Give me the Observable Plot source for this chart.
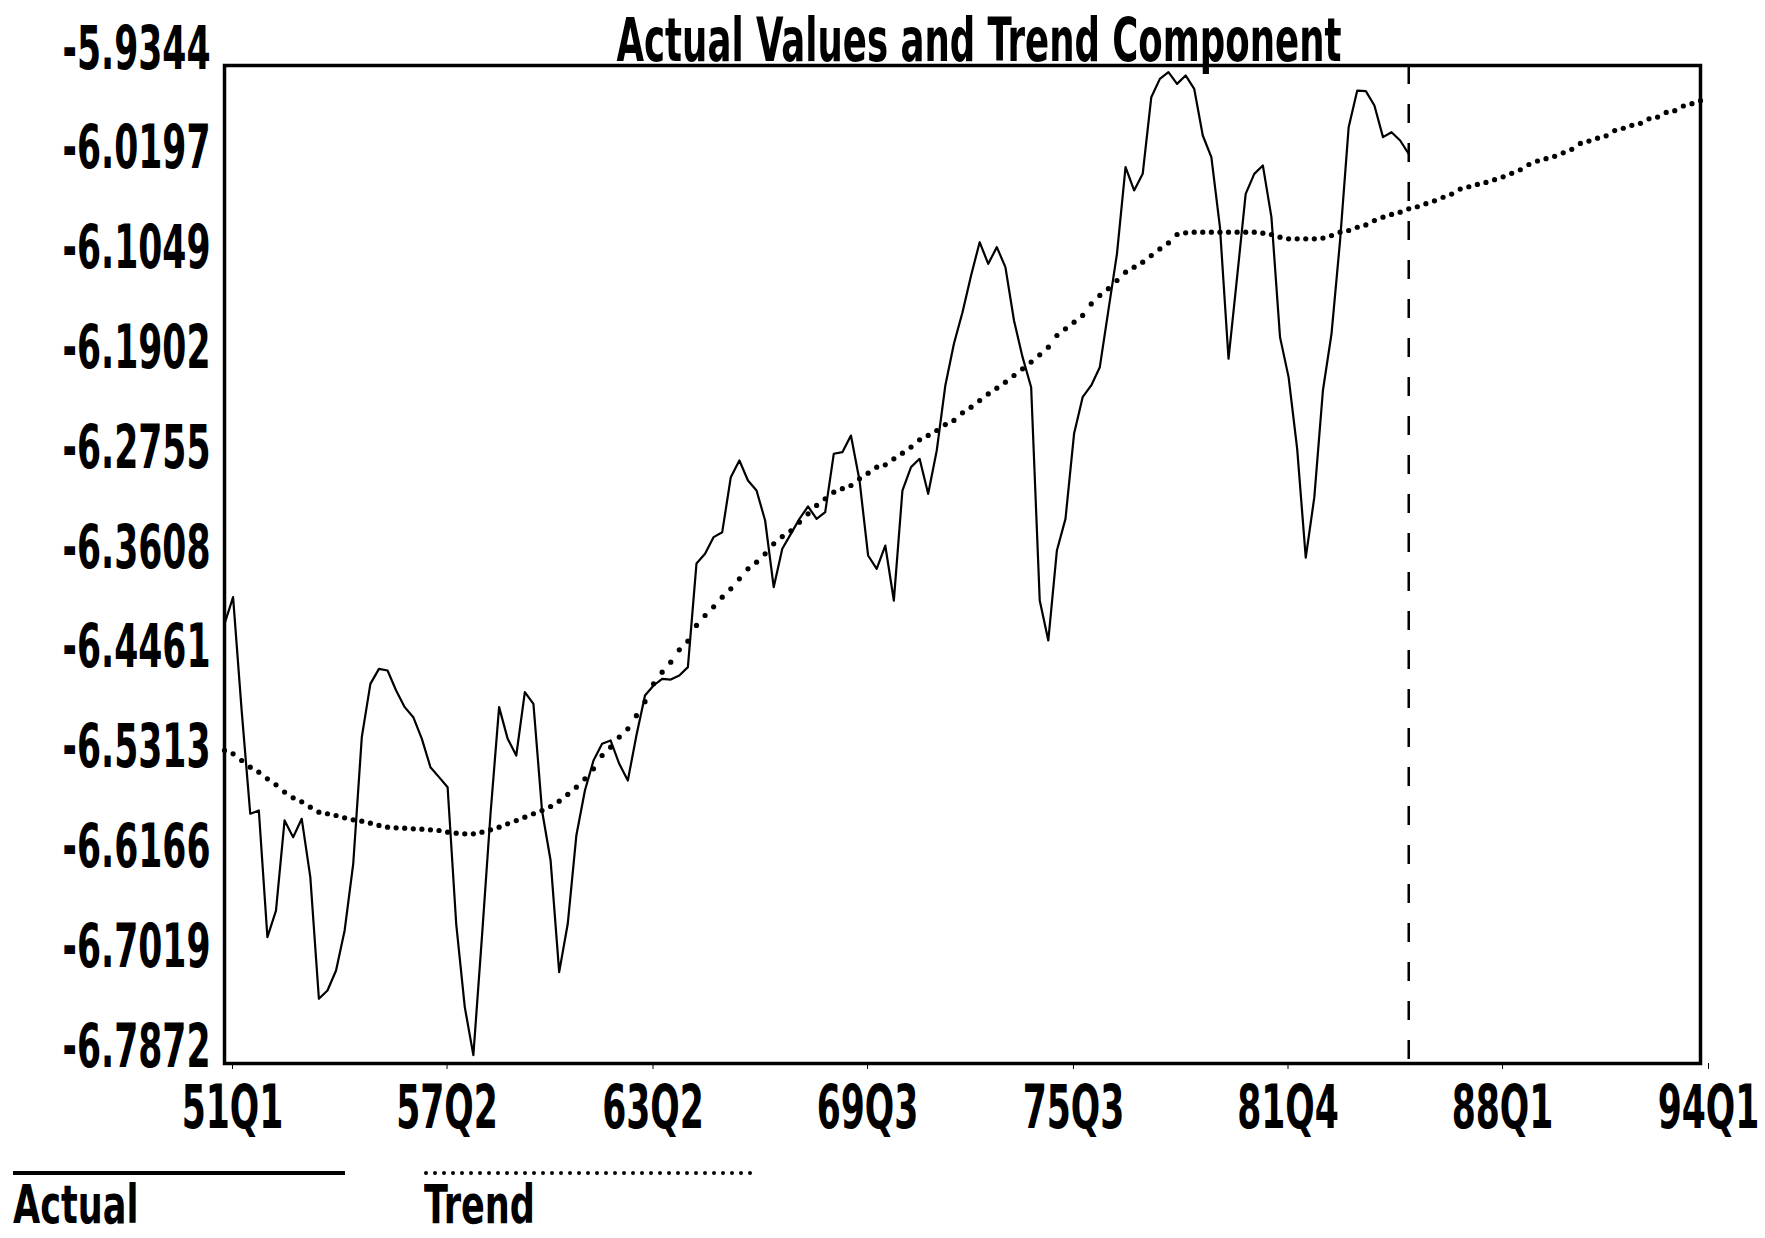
<!DOCTYPE html>
<html>
<head>
<meta charset="utf-8">
<script src="https://cdn.jsdelivr.net/npm/d3@7"></script>
<script src="https://cdn.jsdelivr.net/npm/@observablehq/plot@0.6"></script>
<style>
  html, body { margin: 0; padding: 0; background: #fff; }
  #wrap { position: relative; width: 1765px; height: 1238px; overflow: hidden; background: #fff; color: #000;
          font-family: "Liberation Sans Narrow", "DejaVu Sans Condensed", "DejaVu Sans", sans-serif; font-weight: bold; }
  #chart { position: absolute; left: 0; top: 0; }
  .title { position: absolute; left: 379px; width: 1200px; top: 17px; text-align: center; font-size: 52px; line-height: 40px;
           white-space: nowrap; transform: scale(0.76, 1.15); transform-origin: center top; }
  .legtxt { position: absolute; font-size: 52px; line-height: 36px; white-space: nowrap;
            transform: scale(0.75, 1.04); transform-origin: left top; }
  .legline { position: absolute; }
</style>
</head>
<body>
<div id="wrap">
  <div id="chart"></div>
  <div class="title">Actual Values and Trend Component</div>
  <svg class="legline" style="left:13px;top:1165px" width="340" height="16"><line x1="0" y1="8" x2="332" y2="8" stroke="#000" stroke-width="4"/></svg>
  <div class="legtxt" style="left:13px;top:1186px">Actual</div>
  <svg class="legline" style="left:424px;top:1165px" width="340" height="16"><line x1="2" y1="8" x2="332" y2="8" stroke="#000" stroke-width="4" stroke-linecap="round" stroke-dasharray="0,9"/></svg>
  <div class="legtxt" style="left:424px;top:1186px">Trend</div>
</div>
<script>
// Quarter index 0 = 51Q1
const quarterLabels = ["51Q1", "57Q2", "63Q2", "69Q3", "75Q3", "81Q4", "88Q1", "94Q1"];
const tickQuarters = [0, 25, 49, 74, 98, 123, 148, 172];
const yTicks = [-6.7872, -6.7019, -6.6166, -6.5313, -6.4461, -6.3608, -6.2755, -6.1902, -6.1049, -6.0197, -5.9344];

const actual = [
  -6.4115, -6.3887, -6.4856, -6.5738, -6.5710, -6.6792, -6.6565, -6.5795, -6.5938, -6.5781,
  -6.6280, -6.7319, -6.7248, -6.7077, -6.6735, -6.6166, -6.5083, -6.4628, -6.4500, -6.4514,
  -6.4685, -6.4827, -6.4913, -6.5098, -6.5340, -6.5425, -6.5511, -6.6678, -6.7390, -6.7800,
  -6.6790, -6.5738, -6.4827, -6.5098, -6.5240, -6.4699, -6.4799, -6.5710, -6.6137, -6.7091,
  -6.6678, -6.5924, -6.5539, -6.5283, -6.5140, -6.5112, -6.5311, -6.5454, -6.5069, -6.4727,
  -6.4642, -6.4585, -6.4591, -6.4557, -6.4485, -6.3600, -6.3517, -6.3374, -6.3332, -6.2862,
  -6.2719, -6.2890, -6.2976, -6.3232, -6.3802, -6.3474, -6.3346, -6.3218, -6.3112, -6.3218,
  -6.3161, -6.2662, -6.2648, -6.2506, -6.2890, -6.3531, -6.3645, -6.3446, -6.3916, -6.2976,
  -6.2776, -6.2705, -6.3004, -6.2634, -6.2078, -6.1722, -6.1452, -6.1138, -6.0854, -6.1039,
  -6.0896, -6.1067, -6.1523, -6.1836, -6.2093, -6.3916, -6.4257, -6.3488, -6.3218, -6.2491,
  -6.2178, -6.2078, -6.1922, -6.1437, -6.0953, -6.0213, -6.0412, -6.0270, -5.9615, -5.9458,
  -5.9401, -5.9501, -5.9429, -5.9543, -5.9942, -6.0127, -6.0725, -6.1850, -6.1153, -6.0441,
  -6.0270, -6.0198, -6.0640, -6.1665, -6.2007, -6.2620, -6.3550, -6.3033, -6.2121, -6.1637,
  -6.0839, -5.9871, -5.9558, -5.9563, -5.9686, -5.9956, -5.9914, -5.9985, -6.0099
];

const trend = [
  -6.5197, -6.5226, -6.5283, -6.5340, -6.5383, -6.5439, -6.5491, -6.5553, -6.5602, -6.5636,
  -6.5682, -6.5724, -6.5738, -6.5753, -6.5773, -6.5790, -6.5801, -6.5818, -6.5838, -6.5853,
  -6.5858, -6.5861, -6.5867, -6.5870, -6.5875, -6.5881, -6.5895, -6.5904, -6.5909, -6.5909,
  -6.5895, -6.5875, -6.5853, -6.5824, -6.5796, -6.5767, -6.5738, -6.5710, -6.5676, -6.5630,
  -6.5573, -6.5511, -6.5439, -6.5354, -6.5240, -6.5169, -6.5083, -6.5012, -6.4900, -6.4780,
  -6.4627, -6.4528, -6.4443, -6.4337, -6.4263, -6.4129, -6.4044, -6.3970, -6.3887, -6.3816,
  -6.3730, -6.3645, -6.3588, -6.3517, -6.3431, -6.3369, -6.3320, -6.3246, -6.3175, -6.3103,
  -6.3046, -6.2990, -6.2960, -6.2933, -6.2876, -6.2828, -6.2776, -6.2756, -6.2705, -6.2657,
  -6.2605, -6.2543, -6.2505, -6.2463, -6.2412, -6.2377, -6.2312, -6.2264, -6.2207, -6.2150,
  -6.2101, -6.2050, -6.1993, -6.1936, -6.1878, -6.1816, -6.1751, -6.1651, -6.1594, -6.1537,
  -6.1480, -6.1381, -6.1309, -6.1251, -6.1181, -6.1110, -6.1067, -6.1025, -6.0968, -6.0911,
  -6.0860, -6.0788, -6.0774, -6.0768, -6.0768, -6.0768, -6.0768, -6.0768, -6.0768, -6.0768,
  -6.0768, -6.0777, -6.0788, -6.0811, -6.0825, -6.0825, -6.0825, -6.0825, -6.0819, -6.0797,
  -6.0768, -6.0754, -6.0726, -6.0706, -6.0669, -6.0640, -6.0617, -6.0597, -6.0569, -6.0551,
  -6.0525, -6.0500, -6.0470, -6.0443, -6.0400, -6.0380, -6.0360, -6.0343, -6.0320, -6.0295,
  -6.0265, -6.0235, -6.0190, -6.0160, -6.0140, -6.0120, -6.0090, -6.0060, -6.0010, -5.9990,
  -5.9965, -5.9945, -5.9900, -5.9880, -5.9855, -5.9838, -5.9800, -5.9785, -5.9745, -5.9730,
  -5.9690, -5.9670, -5.9645
];

const actualData = actual.map((v, i) => ({q: i, v}));
const trendData = trend.map((v, i) => ({q: i, v}));
const lastActual = actual.length - 1;
const fontStack = '"Liberation Sans Narrow", "DejaVu Sans Condensed", "DejaVu Sans", sans-serif';

const chart = Plot.plot({
  width: 1765,
  height: 1140,
  marginLeft: 224,
  marginRight: 65,
  marginTop: 65,
  marginBottom: 77,
  style: {fontFamily: fontStack, fontWeight: "bold", fontSize: "52px", background: "white", color: "black", overflow: "visible"},
  x: {domain: [0, tickQuarters[tickQuarters.length - 1]]},
  y: {domain: [yTicks[0], yTicks[yTicks.length - 1]]},
  marks: [
    Plot.ruleX([lastActual], {stroke: "black", strokeWidth: 2.5, strokeDasharray: "19,20"}),
    Plot.dot(trendData, {x: "q", y: "v", r: 2.6, fill: "black", stroke: null}),
    Plot.line(actualData, {x: "q", y: "v", stroke: "black", strokeWidth: 2.2}),
    Plot.frame({stroke: "black", strokeWidth: 3.5}),
    Plot.axisY(yTicks, {tickSize: 0, tickPadding: 14, dy: -16, tickFormat: d => d.toFixed(4), fontSize: 52, label: null}),
    Plot.axisX(tickQuarters, {tickSize: 6, tickPadding: 16, dx: 8, tickFormat: d => quarterLabels[tickQuarters.indexOf(d)], fontSize: 52, label: null})
  ]
});
// condense the glyphs to the tall, narrow look of the original plotter font
chart.querySelectorAll("text").forEach(t => {
  const tr = t.getAttribute("transform") || "";
  t.setAttribute("transform", tr + " scale(0.74,1.15)");
});
document.getElementById("chart").appendChild(chart);
</script>
</body>
</html>
